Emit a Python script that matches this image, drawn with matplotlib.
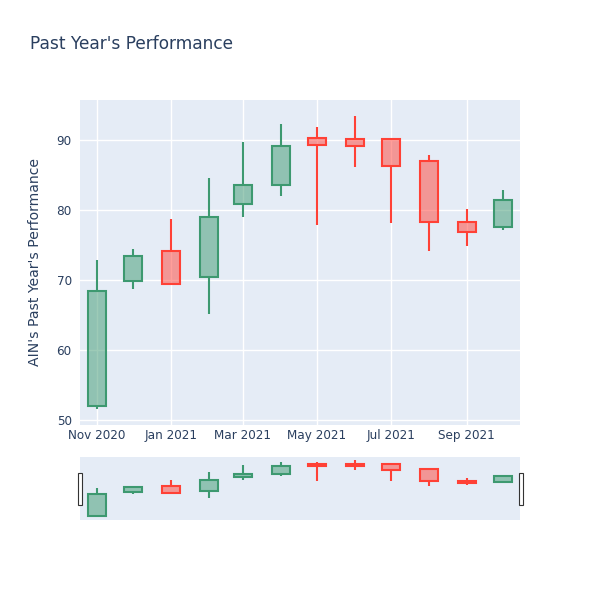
import numpy as np
import pandas as pd
import matplotlib.pyplot as plt
import matplotlib.dates as mdates
from matplotlib.patches import Rectangle

# ============================================================
# DATA (monthly OHLC)
# ============================================================
DATES = pd.date_range("2020-11-01", periods=12, freq="MS")
OPEN = [52.0, 69.8, 74.2, 70.5, 80.8, 83.5, 90.3, 90.2, 90.2, 87.0, 78.3, 77.5]
HIGH = [72.8, 74.4, 78.7, 84.5, 89.7, 92.3, 91.9, 93.4, 90.2, 87.8, 80.2, 82.8]
LOW = [51.6, 68.7, 69.5, 65.2, 79.0, 82.0, 77.9, 86.1, 78.2, 74.2, 74.8, 77.1]
CLOSE = [68.5, 73.4, 69.5, 79.0, 83.5, 89.2, 89.3, 89.2, 86.3, 78.3, 76.9, 81.4]

TICK_DATES = pd.to_datetime(["2020-11-01", "2021-01-01", "2021-03-01",
                             "2021-05-01", "2021-07-01", "2021-09-01"])
TICK_LABELS = ["Nov 2020", "Jan 2021", "Mar 2021", "May 2021", "Jul 2021", "Sep 2021"]
Y_TICKS = [50, 60, 70, 80, 90]

# ============================================================
# STYLE
# ============================================================
INC = "#3D9970"
DEC = "#FF4136"
BG = "#E5ECF6"
TXT = "#2a3f5f"
BOX_DAYS = 14.8
Y_RANGE = (49.3, 95.7)
X_RANGE = (pd.Timestamp("2020-10-18"), pd.Timestamp("2021-10-15"))

plt.rcParams['font.family'] = ['DejaVu Sans']


def draw_candles(ax):
    x = mdates.date2num(DATES)
    for xi, o, h, l, c in zip(x, OPEN, HIGH, LOW, CLOSE):
        col = INC if c >= o else DEC
        lo, hi = min(o, c), max(o, c)
        # whiskers above and below the box
        if h > hi:
            ax.plot([xi, xi], [hi, h], color=col, lw=1.5, solid_capstyle='butt', zorder=3)
        if l < lo:
            ax.plot([xi, xi], [l, lo], color=col, lw=1.5, solid_capstyle='butt', zorder=3)
        ax.add_patch(Rectangle((xi - BOX_DAYS / 2, lo), BOX_DAYS, max(hi - lo, 0.05),
                               facecolor=col, alpha=0.5, edgecolor='none', zorder=3))
        ax.add_patch(Rectangle((xi - BOX_DAYS / 2, lo), BOX_DAYS, max(hi - lo, 0.05),
                               facecolor='none', edgecolor=col, lw=1.5, zorder=4))
    ax.set_xlim(mdates.date2num(X_RANGE[0]), mdates.date2num(X_RANGE[1]))
    ax.set_ylim(*Y_RANGE)
    ax.set_facecolor(BG)
    for s in ax.spines.values():
        s.set_visible(False)


fig = plt.figure(figsize=(6, 6), dpi=100)

# main panel
ax = fig.add_axes([80 / 600, 1 - 425 / 600, 440 / 600, 325 / 600])
draw_candles(ax)
ax.set_yticks(Y_TICKS)
ax.set_xticks(mdates.date2num(TICK_DATES))
ax.set_xticklabels(TICK_LABELS)
ax.tick_params(length=0, labelsize=8.64, labelcolor=TXT)
ax.tick_params(axis='y', pad=6)
ax.tick_params(axis='x', pad=3)
ax.grid(True, color='white', lw=1)
ax.set_axisbelow(True)

# range slider
ax2 = fig.add_axes([80 / 600, 1 - 520 / 600, 440 / 600, 63 / 600])
draw_candles(ax2)
ax2.set_xticks([])
ax2.set_yticks([])

# slider handles
for hx in (77.5, 518.5):
    fig.patches.append(Rectangle((hx / 600, 1 - 505 / 600), 4 / 600, 32 / 600,
                                 transform=fig.transFigure, facecolor='white',
                                 edgecolor='#333333', lw=0.8, zorder=10))

fig.text(30 / 600, 1 - 44 / 600, "Past Year's Performance", fontsize=12.24,
         color=TXT, va='center', ha='left')
fig.text(35 / 600, 1 - 262 / 600, "AIN's Past Year's Performance", fontsize=10.08,
         color=TXT, va='center', ha='center', rotation=90)

fig.savefig("out.png", dpi=100)
